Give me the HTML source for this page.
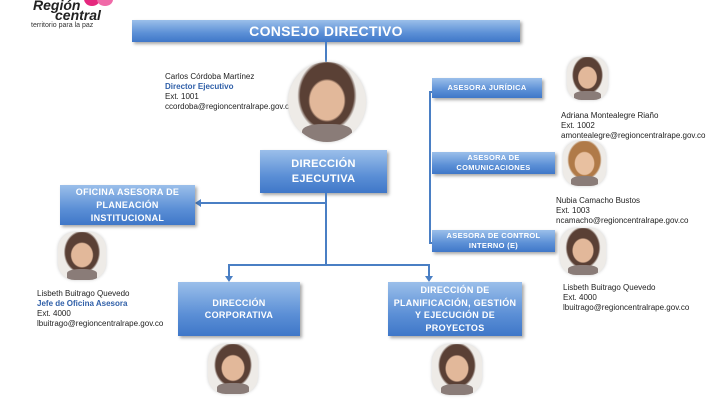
<!DOCTYPE html>
<html><head><meta charset="utf-8"><style>
body{margin:0;width:710px;height:400px;background:#fff;position:relative;overflow:hidden;font-family:"Liberation Sans",sans-serif}
.a{position:absolute}
.box{position:absolute;background:linear-gradient(#9bbfea,#5b8fd6 60%,#3f77c8);color:#fff;font-weight:bold;text-align:center;display:flex;align-items:center;justify-content:center;box-shadow:2px 2px 3px rgba(0,0,0,.35);line-height:1.35;letter-spacing:.3px}
.l{position:absolute;background:#4a7fc4}
.t{position:absolute;font-size:8px;line-height:10px;color:#222;white-space:nowrap}
.t b{color:#2f5fa8;font-weight:bold}
.ph{position:absolute;border-radius:35%;overflow:hidden;background:radial-gradient(ellipse 24% 27% at 50% 48%,#e2b89a 90%,transparent 100%),radial-gradient(ellipse 38% 45% at 50% 42%,#5a4035 90%,transparent 100%),#eeebe7;box-shadow:0 0 3px #ccc}
.ph::after{content:"";position:absolute;left:18%;right:18%;bottom:0;height:22%;background:#8a7c78;border-radius:40% 40% 0 0}
.arr{position:absolute;width:0;height:0;border-left:4px solid transparent;border-right:4px solid transparent;border-top:6px solid #4a7fc4}
</style></head><body>
<div class="a" style="left:84px;top:-8px;width:16px;height:14px;border-radius:50%;background:#e5287e"></div>
<div class="a" style="left:97px;top:-7px;width:16px;height:13px;border-radius:50%;background:#f06aa8"></div>
<div class="a" style="left:33px;top:0px;font:italic bold 14px 'Liberation Sans',sans-serif;color:#222;line-height:10px">Región<br><span style="margin-left:22px">central</span></div>
<div class="t" style="left:31px;top:22px;font-size:7px;line-height:8px;color:#333">territorio para la paz</div>

<div class="box" style="left:132px;top:20px;width:388px;height:22px;font-size:14px">CONSEJO DIRECTIVO</div>
<div class="l" style="left:325px;top:42px;width:2px;height:20px"></div>

<div class="t" style="left:165px;top:72px">Carlos Córdoba Martínez<br><b>Director Ejecutivo</b><br>Ext. 1001<br>ccordoba@regioncentralrape.gov.co</div>
<div class="ph" style="left:288px;top:62px;width:78px;height:80px;border-radius:50%"></div>

<div class="box" style="left:260px;top:150px;width:127px;height:43px;font-size:11px">DIRECCIÓN<br>EJECUTIVA</div>
<div class="l" style="left:325px;top:193px;width:2px;height:73px"></div>
<div class="l" style="left:200px;top:202px;width:126px;height:2px"></div>
<div class="a" style="left:195px;top:199px;border-top:4px solid transparent;border-bottom:4px solid transparent;border-right:6px solid #4a7fc4"></div>
<div class="box" style="left:60px;top:185px;width:135px;height:40px;font-size:9px;line-height:13px">OFICINA ASESORA DE<br>PLANEACIÓN<br>INSTITUCIONAL</div>

<div class="l" style="left:228px;top:264px;width:202px;height:2px"></div>
<div class="l" style="left:228px;top:264px;width:2px;height:12px"></div>
<div class="l" style="left:428px;top:264px;width:2px;height:12px"></div>
<div class="arr" style="left:225px;top:276px"></div>
<div class="arr" style="left:425px;top:276px"></div>

<div class="box" style="left:178px;top:282px;width:122px;height:54px;font-size:9px">DIRECCIÓN<br>CORPORATIVA</div>
<div class="box" style="left:388px;top:282px;width:134px;height:54px;font-size:9px;line-height:12.5px">DIRECCIÓN DE<br>PLANIFICACIÓN, GESTIÓN<br>Y EJECUCIÓN DE<br>PROYECTOS</div>

<div class="ph" style="left:208px;top:344px;width:50px;height:50px"></div>
<div class="ph" style="left:432px;top:344px;width:50px;height:51px"></div>

<div class="ph" style="left:58px;top:232px;width:48px;height:48px"></div>
<div class="t" style="left:37px;top:289px">Lisbeth Buitrago Quevedo<br><b>Jefe de Oficina Asesora</b><br>Ext. 4000<br>lbuitrago@regioncentralrape.gov.co</div>

<div class="l" style="left:429px;top:91px;width:2px;height:153px"></div>
<div class="l" style="left:429px;top:91px;width:4px;height:2px"></div>
<div class="l" style="left:429px;top:242px;width:4px;height:2px"></div>
<div class="box" style="left:432px;top:78px;width:110px;height:20px;font-size:7.5px">ASESORA JURÍDICA</div>
<div class="box" style="left:432px;top:152px;width:123px;height:22px;font-size:7.5px;line-height:10px">ASESORA DE<br>COMUNICACIONES</div>
<div class="box" style="left:432px;top:230px;width:123px;height:22px;font-size:7.5px;line-height:10px">ASESORA DE CONTROL<br>INTERNO (E)</div>

<div class="ph" style="left:567px;top:57px;width:41px;height:43px"></div>
<div class="t" style="left:561px;top:111px">Adriana Montealegre Riaño<br>Ext. 1002<br>amontealegre@regioncentralrape.gov.co</div>
<div class="ph" style="left:563px;top:141px;width:43px;height:45px;background:radial-gradient(ellipse 24% 27% at 50% 50%,#e8c0a0 90%,transparent 100%),radial-gradient(ellipse 40% 45% at 50% 42%,#b07a48 90%,transparent 100%),#eeebe7"></div>
<div class="t" style="left:556px;top:196px">Nubia Camacho Bustos<br>Ext. 1003<br>ncamacho@regioncentralrape.gov.co</div>
<div class="ph" style="left:560px;top:228px;width:46px;height:47px"></div>
<div class="t" style="left:563px;top:283px">Lisbeth Buitrago Quevedo<br>Ext. 4000<br>lbuitrago@regioncentralrape.gov.co</div>
</body></html>
